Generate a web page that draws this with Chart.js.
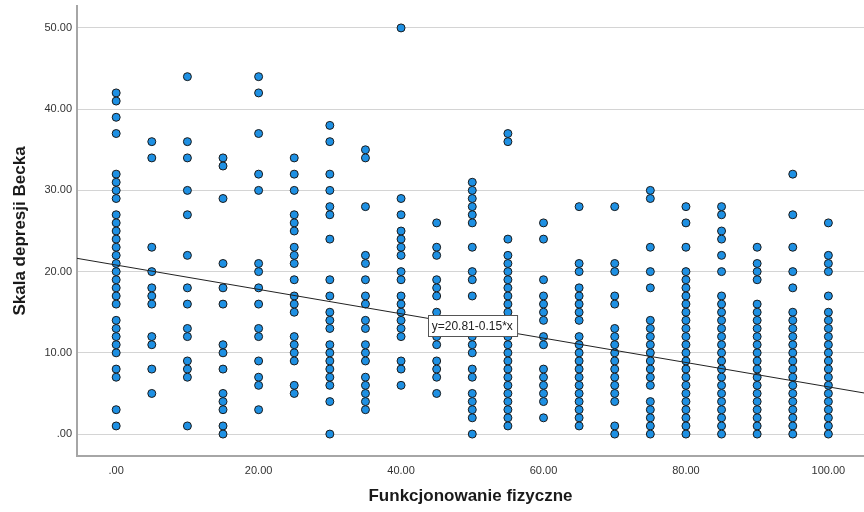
<!DOCTYPE html>
<html>
<head>
<meta charset="utf-8">
<script src="https://cdn.jsdelivr.net/npm/chart.js@4/dist/chart.umd.min.js"></script>
<style>
  html, body { margin: 0; padding: 0; background: #ffffff; }
  #wrap { width: 864px; height: 512px; }
</style>
</head>
<body>
<div id="wrap"><canvas id="c" width="864" height="512"></canvas></div>
<script>
// Funkcjonowanie fizyczne levels (x) and the Beck scores recorded at each level (y)
const physicalLevels = [0, 5, 10, 15, 20, 25, 30, 35, 40, 45, 50, 55, 60, 65, 70, 75, 80, 85, 90, 95, 100];

const beckAt00 = [42, 41, 39, 37, 32, 31, 30, 29, 27, 26, 25, 24, 23, 22, 21, 20, 19, 18, 17, 16, 14, 13, 12, 11, 10, 8, 7, 3, 1];
const beckAt05 = [36, 34, 23, 20, 18, 17, 16, 12, 11, 8, 5];
const beckAt10 = [44, 36, 34, 30, 27, 22, 18, 16, 13, 12, 9, 8, 7, 1];
const beckAt15 = [34, 33, 29, 21, 18, 16, 11, 10, 8, 5, 4, 3, 1, 0];
const beckAt20 = [44, 42, 37, 32, 30, 21, 20, 18, 16, 13, 12, 9, 7, 6, 3];
const beckAt25 = [34, 32, 30, 27, 26, 25, 23, 22, 21, 19, 17, 16, 15, 12, 11, 10, 9, 6, 5];
const beckAt30 = [38, 36, 32, 30, 28, 27, 24, 19, 17, 15, 14, 13, 11, 10, 9, 8, 7, 6, 4, 0];
const beckAt35 = [35, 34, 28, 22, 21, 19, 17, 16, 14, 13, 11, 10, 9, 7, 6, 5, 4, 3];
const beckAt40 = [50, 29, 27, 25, 24, 23, 22, 20, 19, 17, 16, 15, 14, 13, 12, 9, 8, 6];
const beckAt45 = [26, 23, 22, 19, 18, 17, 15, 13, 12, 11, 9, 8, 7, 5];
const beckAt50 = [31, 30, 29, 28, 27, 26, 23, 20, 19, 17, 12, 11, 10, 8, 7, 5, 4, 3, 2, 0];
const beckAt55 = [37, 36, 24, 22, 21, 20, 19, 18, 17, 16, 15, 14, 13, 12, 11, 10, 9, 8, 7, 6, 5, 4, 3, 2, 1];
const beckAt60 = [26, 24, 19, 17, 16, 15, 14, 12, 11, 8, 7, 6, 5, 4, 2];
const beckAt65 = [28, 21, 20, 18, 17, 16, 15, 14, 12, 11, 10, 9, 8, 7, 6, 5, 4, 3, 2, 1];
const beckAt70 = [28, 21, 20, 17, 16, 13, 12, 11, 10, 9, 8, 7, 6, 5, 4, 1, 0];
const beckAt75 = [30, 29, 23, 20, 18, 14, 13, 12, 11, 10, 9, 8, 7, 6, 4, 3, 2, 1, 0];
const beckAt80 = [28, 26, 23, 20, 19, 18, 17, 16, 15, 14, 13, 12, 11, 10, 9, 8, 7, 6, 5, 4, 3, 2, 1, 0];
const beckAt85 = [28, 27, 25, 24, 22, 20, 17, 16, 15, 14, 13, 12, 11, 10, 9, 8, 7, 6, 5, 4, 3, 2, 1, 0];
const beckAt90 = [23, 21, 20, 19, 16, 15, 14, 13, 12, 11, 10, 9, 8, 7, 6, 5, 4, 3, 2, 1, 0];
const beckAt95 = [32, 27, 23, 20, 18, 15, 14, 13, 12, 11, 10, 9, 8, 7, 6, 5, 4, 3, 2, 1, 0];
const beckAt100 = [26, 22, 21, 20, 17, 15, 14, 13, 12, 11, 10, 9, 8, 7, 6, 5, 4, 3, 2, 1, 0];

const beckColumns = [beckAt00, beckAt05, beckAt10, beckAt15, beckAt20, beckAt25, beckAt30,
  beckAt35, beckAt40, beckAt45, beckAt50, beckAt55, beckAt60, beckAt65, beckAt70,
  beckAt75, beckAt80, beckAt85, beckAt90, beckAt95, beckAt100];

// Fitted linear regression: y = 20.81 - 0.15 * x
const fitIntercept = 20.81;
const fitSlope = -0.15;
const fitLabel = 'y=20.81-0.15*x';
const fitLabelAt = 50;

const xTickValues = [0, 20, 40, 60, 80, 100];
const yTickValues = [0, 10, 20, 30, 40, 50];
const xRange = [-5.5, 105];
const yRange = [-2.7, 52.7];

const points = [];
physicalLevels.forEach((lvl, i) => {
  beckColumns[i].forEach(v => points.push({ x: lvl, y: v }));
});

const fitLine = xRange.map(x => ({ x: x, y: fitIntercept + fitSlope * x }));

const fmt = v => (v === 0 ? '.00' : v.toFixed(2));
const FONT = '"Liberation Sans", Arial, sans-serif';

// Boxed equation label centred on the fit line
const fitLabelPlugin = {
  id: 'fitLabel',
  afterDatasetsDraw(chart) {
    const { ctx, scales } = chart;
    const px = scales.x.getPixelForValue(fitLabelAt);
    const py = scales.y.getPixelForValue(fitIntercept + fitSlope * fitLabelAt);
    ctx.save();
    ctx.font = '12px ' + FONT;
    const w = ctx.measureText(fitLabel).width + 8;
    const h = 21;
    const bx = Math.round(px - w / 2) + 0.5;
    const by = Math.round(py - h / 2) + 0.5;
    ctx.fillStyle = '#ffffff';
    ctx.fillRect(bx, by, w, h);
    ctx.strokeStyle = '#555555';
    ctx.lineWidth = 1;
    ctx.strokeRect(bx, by, w, h);
    ctx.fillStyle = '#222222';
    ctx.textAlign = 'center';
    ctx.textBaseline = 'middle';
    ctx.fillText(fitLabel, px, py + 1);
    ctx.restore();
  }
};

new Chart(document.getElementById('c'), {
  type: 'scatter',
  data: {
    datasets: [
      {
        label: 'Skala depresji Becka',
        data: points,
        pointRadius: 4,
        pointHoverRadius: 4,
        pointBackgroundColor: '#1e90e3',
        pointBorderColor: '#1a1a1a',
        pointBorderWidth: 1,
        order: 1
      },
      {
        type: 'line',
        label: 'fit',
        data: fitLine,
        borderColor: '#222222',
        borderWidth: 1,
        pointRadius: 0,
        fill: false,
        order: 0
      }
    ]
  },
  plugins: [fitLabelPlugin],
  options: {
    responsive: false,
    animation: false,
    events: [],
    layout: { autoPadding: false, padding: { top: 6, right: 0, left: 0, bottom: 0 } },
    plugins: { legend: { display: false }, tooltip: { enabled: false } },
    scales: {
      x: {
        type: 'linear',
        min: xRange[0],
        max: xRange[1],
        afterBuildTicks: s => { s.ticks = xTickValues.map(v => ({ value: v })); },
        afterFit: s => { s.height = 56; s.paddingLeft = 0; s.paddingRight = 0; },
        grid: { display: false, drawTicks: false },
        border: { display: true, color: '#a6a6a6', width: 2 },
        ticks: {
          padding: 8,
          color: '#333333',
          font: { family: FONT, size: 11 },
          callback: v => fmt(v),
          maxRotation: 0
        },
        title: {
          display: true,
          text: 'Funkcjonowanie fizyczne',
          color: '#1a1a1a',
          font: { family: FONT, size: 17, weight: 'bold' },
          padding: { top: 0, bottom: 5 }
        }
      },
      y: {
        type: 'linear',
        min: yRange[0],
        max: yRange[1],
        afterBuildTicks: s => { s.ticks = yTickValues.map(v => ({ value: v })); },
        afterFit: s => { s.width = 77; s.paddingTop = 0; s.paddingBottom = 0; },
        grid: { display: true, drawTicks: false, color: '#d4d4d4', lineWidth: 1 },
        border: { display: true, color: '#a6a6a6', width: 2 },
        ticks: {
          padding: 5,
          color: '#333333',
          font: { family: FONT, size: 11 },
          callback: v => fmt(v)
        },
        title: {
          display: true,
          text: 'Skala depresji Becka',
          color: '#1a1a1a',
          font: { family: FONT, size: 17, weight: 'bold' },
          padding: { top: 10, bottom: 0 }
        }
      }
    }
  }
});
</script>
</body>
</html>
